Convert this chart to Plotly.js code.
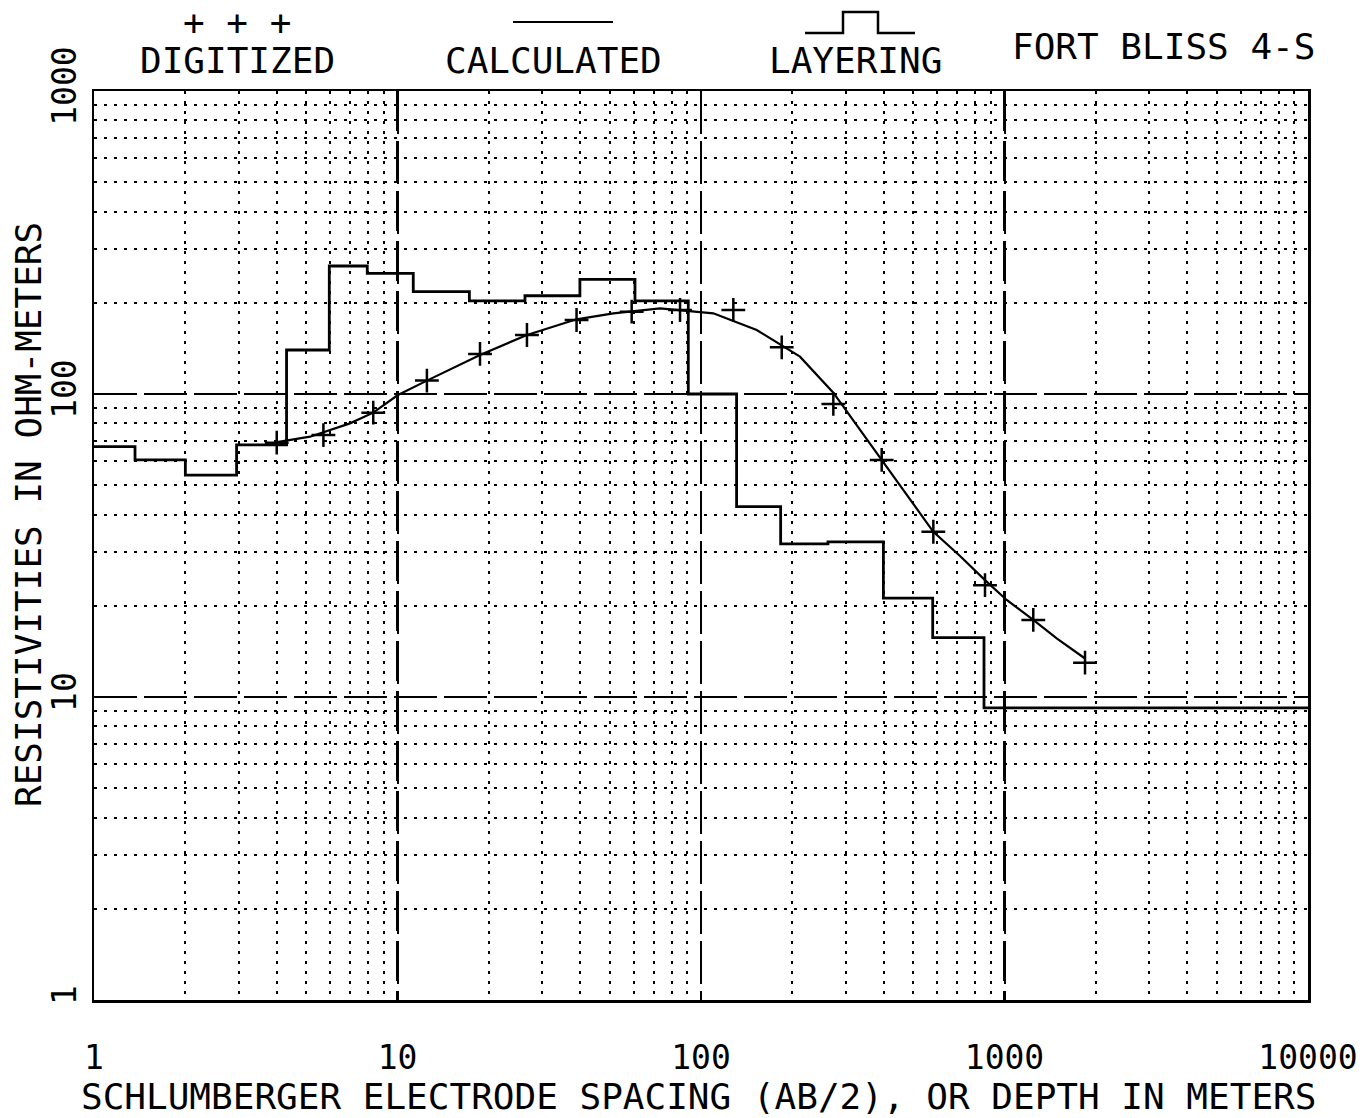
<!DOCTYPE html>
<html>
<head>
<meta charset="utf-8">
<script src="https://cdn.plot.ly/plotly-3.0.1.min.js"></script>
<style>body{margin:0;background:#fff;}#chart{width:1367px;height:1118px;}</style>
</head>
<body>
<div id="chart"></div>
<script>
const digX = [4.0, 5.7, 8.32, 12.5, 18.7, 26.7, 38.9, 59.1, 85.3, 127.8, 184.5, 272.9, 393.9, 582.8, 862.5, 1244, 1842];
const digY = [69.1, 73.2, 86.8, 110.7, 135.6, 156.6, 175.5, 186.9, 189.3, 189.3, 142.6, 92.7, 60.6, 35.1, 23.4, 17.96, 12.98];

// Calculated sounding curve
const calcX = [4.01, 5.15, 6.97, 8.32, 10, 12.5, 18.7, 26.7, 38.9, 51.4, 73.3, 109.8, 152.6, 184.5, 211.9, 272.9, 393.9, 500.6, 582.8, 713.6, 862.5, 1016.8, 1244, 1486, 1842];
const calcY = [69.4, 72.3, 80.0, 86.8, 99, 110.7, 134.5, 156.6, 176.4, 184.6, 191.8, 184.6, 162.6, 145.1, 132.8, 101, 60.6, 43.4, 35.1, 29.2, 24.3, 20.9, 17.96, 15.6, 13.4];

// Layering model (depth to top of layer, layer resistivity)
const layX = [1, 1.365, 2.0, 2.95, 4.31, 5.96, 7.95, 11.27, 17.25, 26.3, 39.9, 60.6, 90.8, 131, 183, 262, 399, 580, 856, 10000];
const layY = [67, 60.6, 54, 67.9, 139.7, 264.5, 250, 217.6, 202.8, 211, 239, 202.8, 100, 42.5, 32.0, 32.5, 21.2, 15.7, 9.2, 9.2];

const xTicks = [1, 10, 100, 1000, 10000];
const xTickText = ['1', '10', '100', '1000', '10000'];
const yTicks = [1, 10, 100, 1000];
const yTickText = ['1', '10', '100', '1000'];

const FONT = 'DejaVu Sans Mono, monospace';
const FS = 36;

const traces = [
  {x: layX, y: layY, mode: 'lines', line: {shape: 'hv', color: '#000', width: 2.8}, showlegend: false, hoverinfo: 'skip'},
  {x: calcX, y: calcY, mode: 'lines', line: {shape: 'linear', color: '#000', width: 2.2}, showlegend: false},
  {x: digX, y: digY, mode: 'markers', marker: {symbol: 'cross-thin', size: 17, line: {color: '#000', width: 2.5}}, showlegend: false}
];

const axisCommon = {
  type: 'log',
  showgrid: true, gridcolor: '#000', gridwidth: 2.2, griddash: '40px,10px',
  minor: {dtick: 'D1', showgrid: true, gridcolor: '#000', gridwidth: 2, griddash: '3px,7px', ticks: ''},
  showline: true, mirror: true, linecolor: '#000', linewidth: 2.5,
  zeroline: false, ticks: '',
  tickfont: {family: FONT, size: 33, color: '#000'}
};

const layout = {
  width: 1367, height: 1118,
  margin: {l: 94, r: 59, t: 91, b: 118, pad: 0},
  paper_bgcolor: '#fff', plot_bgcolor: '#fff',
  showlegend: false,
  xaxis: Object.assign({}, axisCommon, {range: [0, 4], tickvals: xTicks, ticktext: xTickText, ticklabelstandoff: 27}),
  yaxis: Object.assign({}, axisCommon, {range: [0, 3], tickvals: yTicks, ticktext: yTickText, tickangle: -90, ticklabelstandoff: 2}),
  annotations: [
    {xref: 'paper', yref: 'paper', x: 143/1214, y: (1000-12)/909, text: '+ + +', showarrow: false, font: {family: FONT, size: FS, color: '#000'}, xanchor: 'center', yanchor: 'middle', yshift: -10},
    {xref: 'paper', yref: 'paper', x: 143/1214, y: (1000-60)/909, text: 'DIGITIZED', showarrow: false, font: {family: FONT, size: FS, color: '#000'}, xanchor: 'center', yanchor: 'middle'},
    {xref: 'paper', yref: 'paper', x: (553-94)/1214, y: (1000-60)/909, text: 'CALCULATED', showarrow: false, font: {family: FONT, size: FS, color: '#000'}, xanchor: 'center', yanchor: 'middle'},
    {xref: 'paper', yref: 'paper', x: (855-94)/1214, y: (1000-60)/909, text: 'LAYERING', showarrow: false, font: {family: FONT, size: FS, color: '#000'}, xanchor: 'center', yanchor: 'middle'},
    {xref: 'paper', yref: 'paper', x: (1163-94)/1214, y: (1000-47)/909, text: 'FORT BLISS 4-S', showarrow: false, font: {family: FONT, size: FS, color: '#000'}, xanchor: 'center', yanchor: 'middle'},
    {xref: 'paper', yref: 'paper', x: (698-94)/1214, y: (1000-1096)/909, text: 'SCHLUMBERGER ELECTRODE SPACING (AB/2), OR DEPTH IN METERS', showarrow: false, font: {family: FONT, size: FS, color: '#000'}, xanchor: 'center', yanchor: 'middle'},
    {xref: 'paper', yref: 'paper', x: (28-94)/1214, y: (1000-515)/909, text: 'RESISTIVITIES IN OHM-METERS', textangle: -90, showarrow: false, font: {family: FONT, size: FS, color: '#000'}, xanchor: 'center', yanchor: 'middle'}
  ],
  shapes: [
    {type: 'line', xref: 'paper', yref: 'paper', x0: (513-94)/1214, x1: (613-94)/1214, y0: (1000-22)/909, y1: (1000-22)/909, line: {color: '#000', width: 2.2}},
    {type: 'path', xref: 'paper', yref: 'paper',
     path: 'M ' + ((805-94)/1214) + ' ' + ((1000-33)/909) + ' L ' + ((843-94)/1214) + ' ' + ((1000-33)/909) +
           ' L ' + ((843-94)/1214) + ' ' + ((1000-12)/909) + ' L ' + ((878-94)/1214) + ' ' + ((1000-12)/909) +
           ' L ' + ((878-94)/1214) + ' ' + ((1000-33)/909) + ' L ' + ((915-94)/1214) + ' ' + ((1000-33)/909),
     line: {color: '#000', width: 2.5}}
  ]
};

Plotly.newPlot('chart', traces, layout, {displayModeBar: false, staticPlot: true});
</script>
</body>
</html>
